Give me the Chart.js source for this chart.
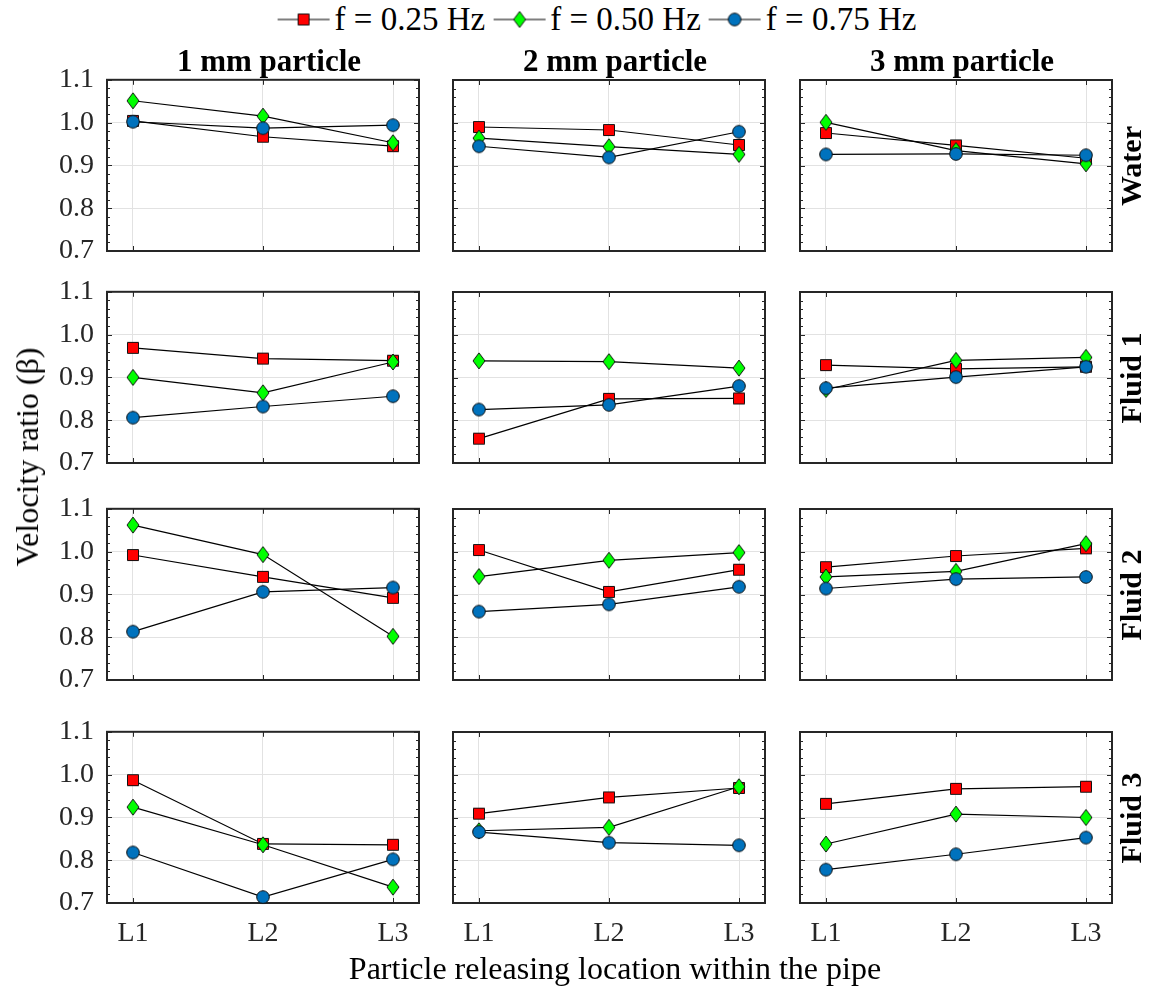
<!DOCTYPE html>
<html>
<head>
<meta charset="utf-8">
<script src="https://cdn.jsdelivr.net/npm/chart.js@4.4.1/dist/chart.umd.min.js"></script>
<style>
  html, body { margin: 0; padding: 0; background: #fff; }
  #fig { position: relative; width: 1149px; height: 986px; overflow: hidden;
         font-family: 'Liberation Serif', 'Times New Roman', serif; color: #000; }
  .panel { position: absolute; line-height: 0; }
  .txt { position: absolute; white-space: nowrap; line-height: 1; }
  .legend { position: absolute; display: flex; align-items: center; white-space: nowrap;
            font-size: 33px; line-height: 1; transform: translate(-50%, -50%); }
  .legend span { margin: 0 8px 0 5px; }
</style>
</head>
<body>
<div id="fig"></div>
<script>
// ---- categories and labels ----
const locations = ['L1', 'L2', 'L3'];
const particleSizes = ['1 mm particle', '2 mm particle', '3 mm particle'];
const fluids = ['Water', 'Fluid 1', 'Fluid 2', 'Fluid 3'];
const frequencies = ['f = 0.25 Hz', 'f = 0.50 Hz', 'f = 0.75 Hz'];
const yTickValues = [0.7, 0.8, 0.9, 1.0, 1.1];

// ---- velocity ratio (beta) at L1, L2, L3 ----
// Water
const water_1mm_f025 = [1.004, 0.967, 0.945];
const water_1mm_f050 = [1.051, 1.015, 0.953];
const water_1mm_f075 = [1.002, 0.987, 0.994];
const water_2mm_f025 = [0.990, 0.983, 0.948];
const water_2mm_f050 = [0.964, 0.944, 0.926];
const water_2mm_f075 = [0.945, 0.919, 0.979];
const water_3mm_f025 = [0.976, 0.947, 0.917];
const water_3mm_f050 = [1.001, 0.935, 0.904];
const water_3mm_f075 = [0.926, 0.927, 0.924];
// Fluid 1
const fluid1_1mm_f025 = [0.969, 0.944, 0.939];
const fluid1_1mm_f050 = [0.900, 0.864, 0.936];
const fluid1_1mm_f075 = [0.806, 0.832, 0.856];
const fluid1_2mm_f025 = [0.757, 0.850, 0.851];
const fluid1_2mm_f050 = [0.939, 0.937, 0.922];
const fluid1_2mm_f075 = [0.825, 0.836, 0.880];
const fluid1_3mm_f025 = [0.929, 0.920, 0.925];
const fluid1_3mm_f050 = [0.872, 0.940, 0.947];
const fluid1_3mm_f075 = [0.875, 0.901, 0.925];
// Fluid 2
const fluid2_1mm_f025 = [0.992, 0.941, 0.892];
const fluid2_1mm_f050 = [1.062, 0.993, 0.802];
const fluid2_1mm_f075 = [0.813, 0.906, 0.916];
const fluid2_2mm_f025 = [1.004, 0.906, 0.958];
const fluid2_2mm_f050 = [0.942, 0.980, 0.998];
const fluid2_2mm_f075 = [0.860, 0.877, 0.918];
const fluid2_3mm_f025 = [0.964, 0.990, 1.008];
const fluid2_3mm_f050 = [0.941, 0.954, 1.019];
const fluid2_3mm_f075 = [0.914, 0.936, 0.941];
// Fluid 3
const fluid3_1mm_f025 = [0.987, 0.838, 0.836];
const fluid3_1mm_f050 = [0.924, 0.836, 0.737];
const fluid3_1mm_f075 = [0.818, 0.714, 0.802];
const fluid3_2mm_f025 = [0.909, 0.947, 0.969];
const fluid3_2mm_f050 = [0.869, 0.877, 0.972];
const fluid3_2mm_f075 = [0.866, 0.841, 0.835];
const fluid3_3mm_f025 = [0.932, 0.967, 0.972];
const fluid3_3mm_f050 = [0.838, 0.908, 0.900];
const fluid3_3mm_f075 = [0.778, 0.814, 0.853];

// rows = fluids, columns = particle sizes, inner = frequencies
const panelSeries = [
  [[water_1mm_f025, water_1mm_f050, water_1mm_f075],
   [water_2mm_f025, water_2mm_f050, water_2mm_f075],
   [water_3mm_f025, water_3mm_f050, water_3mm_f075]],
  [[fluid1_1mm_f025, fluid1_1mm_f050, fluid1_1mm_f075],
   [fluid1_2mm_f025, fluid1_2mm_f050, fluid1_2mm_f075],
   [fluid1_3mm_f025, fluid1_3mm_f050, fluid1_3mm_f075]],
  [[fluid2_1mm_f025, fluid2_1mm_f050, fluid2_1mm_f075],
   [fluid2_2mm_f025, fluid2_2mm_f050, fluid2_2mm_f075],
   [fluid2_3mm_f025, fluid2_3mm_f050, fluid2_3mm_f075]],
  [[fluid3_1mm_f025, fluid3_1mm_f050, fluid3_1mm_f075],
   [fluid3_2mm_f025, fluid3_2mm_f050, fluid3_2mm_f075],
   [fluid3_3mm_f025, fluid3_3mm_f050, fluid3_3mm_f075]]
];

// ---- styling ----
const FONT = "'Liberation Serif', 'Times New Roman', serif";
const seriesShapes = ['square', 'diamond', 'circle'];
const seriesFills = ['#ff0000', '#00ff00', '#0072bd'];
const colLeft = [107, 453, 800];
const rowTop = [80, 292, 509, 732];
const plotW = 312, plotH = 171;
const X_MIN = 0.8, X_MAX = 3.2, Y_MIN = 0.7, Y_MAX = 1.1;
const M = { left: 72, top: 26, right: 26, bottom: 56 };

function markerCanvas(shape, fill) {
  const c = document.createElement('canvas');
  c.width = 18; c.height = 20;
  const g = c.getContext('2d');
  g.fillStyle = fill;
  g.strokeStyle = '#111';
  g.lineWidth = 1;
  g.beginPath();
  if (shape === 'square') {
    g.rect(3.5, 4.5, 11, 11);
  } else if (shape === 'diamond') {
    g.moveTo(9, 2); g.lineTo(15, 10); g.lineTo(9, 18); g.lineTo(3, 10); g.closePath();
  } else {
    g.arc(9, 10, 6.3, 0, Math.PI * 2);
  }
  g.fill();
  g.stroke();
  return c;
}
const markers = seriesShapes.map((s, i) => markerCanvas(s, seriesFills[i]));

// box, inward major ticks and minor y ticks
const axesFrame = {
  id: 'axesFrame',
  beforeDatasetsDraw(chart) {
    const { ctx, scales: { x, y } } = chart;
    const L = x.getPixelForValue(X_MIN), R = x.getPixelForValue(X_MAX);
    const T = y.getPixelForValue(Y_MAX), B = y.getPixelForValue(Y_MIN);
    ctx.save();
    ctx.strokeStyle = '#262626';
    ctx.lineWidth = 1;
    ctx.beginPath();
    yTickValues.forEach(v => {
      const py = Math.round(y.getPixelForValue(v)) + 0.5;
      ctx.moveTo(L, py); ctx.lineTo(L + 5, py);
      ctx.moveTo(R, py); ctx.lineTo(R - 5, py);
    });
    for (let k = 1; k < 20; k++) {
      if (k % 5 === 0) continue;
      const py = Math.round(y.getPixelForValue(Y_MIN + k * 0.02)) + 0.5;
      ctx.moveTo(L, py); ctx.lineTo(L + 3, py);
      ctx.moveTo(R, py); ctx.lineTo(R - 3, py);
    }
    [1, 2, 3].forEach(v => {
      const px = Math.round(x.getPixelForValue(v)) + 0.5;
      ctx.moveTo(px, T); ctx.lineTo(px, T + 5);
      ctx.moveTo(px, B); ctx.lineTo(px, B - 5);
    });
    ctx.stroke();
    ctx.lineWidth = 2;
    ctx.strokeRect(L, T, R - L, B - T);
    ctx.restore();
  }
};

const fig = document.getElementById('fig');

function addText(str, x, y, size, bold, rotate) {
  const d = document.createElement('div');
  d.className = 'txt';
  d.textContent = str;
  d.style.fontSize = size + 'px';
  d.style.fontWeight = bold ? 'bold' : 'normal';
  d.style.left = x + 'px';
  d.style.top = y + 'px';
  d.style.transform = 'translate(-50%, -50%)' + (rotate ? ' rotate(-90deg)' : '');
  fig.appendChild(d);
}

function panelConfig(r, c) {
  const datasets = panelSeries[r][c].map((vals, s) => ({
    label: frequencies[s],
    data: vals.map((v, i) => ({ x: i + 1, y: v })),
    borderColor: '#000',
    borderWidth: 1.2,
    pointStyle: markers[s],
    pointRadius: 6,
    pointHoverRadius: 6,
    order: 3 - s,
    clip: false,
    tension: 0
  }));
  return {
    type: 'line',
    data: { datasets },
    plugins: [axesFrame],
    options: {
      responsive: false,
      maintainAspectRatio: false,
      animation: false,
      events: [],
      layout: { padding: { left: 0, top: M.top, right: M.right, bottom: 0 } },
      plugins: { legend: { display: false }, tooltip: { enabled: false } },
      scales: {
        x: {
          type: 'linear', min: X_MIN, max: X_MAX,
          afterBuildTicks: s => { s.ticks = [1, 2, 3].map(v => ({ value: v })); },
          afterFit: s => { s.height = M.bottom; },
          grid: { color: '#e2e2e2', lineWidth: 1, drawTicks: false },
          border: { display: false },
          ticks: {
            display: r === fluids.length - 1, padding: 14, color: '#262626',
            font: { family: FONT, size: 28 },
            callback: v => locations[v - 1], maxRotation: 0
          }
        },
        y: {
          type: 'linear', min: Y_MIN, max: Y_MAX,
          afterBuildTicks: s => { s.ticks = yTickValues.map(v => ({ value: v })); },
          afterFit: s => { s.width = M.left; },
          grid: { color: '#e2e2e2', lineWidth: 1, drawTicks: false },
          border: { display: false },
          ticks: {
            display: c === 0, padding: 13, color: '#262626',
            font: { family: FONT, size: 28 },
            callback: v => Number(v).toFixed(1)
          }
        }
      }
    }
  };
}

function buildPanel(r, c) {
  const holder = document.createElement('div');
  holder.className = 'panel';
  const canvas = document.createElement('canvas');
  let cw = M.left + plotW + M.right, ch = M.top + plotH + M.bottom;
  canvas.width = cw; canvas.height = ch;
  holder.appendChild(canvas);
  fig.appendChild(holder);

  // size the canvas so that the plotting box is exactly plotW x plotH
  let chart;
  for (let k = 0; k < 4; k++) {
    chart = new Chart(canvas, panelConfig(r, c));
    const x = chart.scales.x, y = chart.scales.y;
    const w = x.getPixelForValue(X_MAX) - x.getPixelForValue(X_MIN);
    const h = y.getPixelForValue(Y_MIN) - y.getPixelForValue(Y_MAX);
    const dw = Math.round(plotW - w), dh = Math.round(plotH - h);
    if (dw === 0 && dh === 0) break;
    chart.destroy();
    cw += dw; ch += dh;
    canvas.width = cw; canvas.height = ch;
  }
  const x = chart.scales.x, y = chart.scales.y;
  holder.style.left = (colLeft[c] - x.getPixelForValue(X_MIN)) + 'px';
  holder.style.top = (rowTop[r] - y.getPixelForValue(Y_MAX)) + 'px';
}

for (let r = 0; r < fluids.length; r++) {
  for (let c = 0; c < particleSizes.length; c++) buildPanel(r, c);
}

// column titles and row labels
particleSizes.forEach((t, c) => addText(t, colLeft[c] + plotW / 2 + 6, 60, 31, true, false));
fluids.forEach((t, r) => addText(t, 1131, rowTop[r] + plotH / 2, 30, true, true));

// axis titles
addText('Velocity ratio (\u03b2)', 27, 457, 32, false, true);
addText('Particle releasing location within the pipe', 615, 968, 32, false, false);

// legend
const legend = document.createElement('div');
legend.className = 'legend';
legend.style.left = '601px';
legend.style.top = '19px';
frequencies.forEach((f, s) => {
  const sym = document.createElement('canvas');
  sym.width = 52; sym.height = 22;
  const g = sym.getContext('2d');
  g.strokeStyle = '#000'; g.lineWidth = 1.2;
  g.beginPath(); g.moveTo(0, 11); g.lineTo(52, 11); g.stroke();
  g.drawImage(markers[s], 26 - markers[s].width / 2, 11 - markers[s].height / 2);
  legend.appendChild(sym);
  const sp = document.createElement('span');
  sp.textContent = f;
  legend.appendChild(sp);
});
fig.appendChild(legend);
</script>
</body>
</html>
